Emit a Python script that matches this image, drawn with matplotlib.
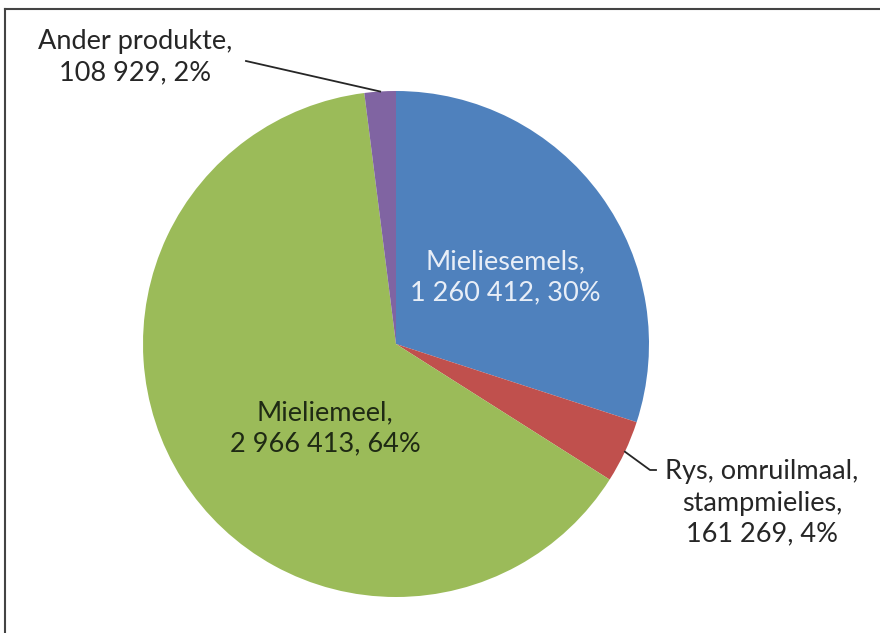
import matplotlib as mpl
mpl.use('Agg')
import matplotlib.pyplot as plt
import numpy as np

# data
names = ["Mieliesemels", "Rys, omruilmaal,\nstampmielies", "Mieliemeel", "Ander produkte"]
values = ["1 260 412", "161 269", "2 966 413", "108 929"]
percents = [30, 4, 64, 2]
colors = ["#4F81BD", "#C0504D", "#9BBB59", "#8064A2"]

plt.rcParams["font.family"] = ["Lato", "DejaVu Sans"]
W, H = 880, 633
fig = plt.figure(figsize=(W / 100, H / 100), dpi=100)
ax = fig.add_axes([0, 0, 1, 1])

cx, cy, R = 396, H - 344, 253
wedges, _ = ax.pie(percents, colors=colors, startangle=90, counterclock=False,
                   center=(cx, cy), radius=R, frame=True,
                   wedgeprops=dict(linewidth=0))
ax.set_xlim(0, W)
ax.set_ylim(0, H)
ax.set_aspect("equal")
ax.axis("off")

fs = 19.5
ls = 1.3
txt = ["{},\n{}, {}%".format(n, v, p) for n, v, p in zip(names, values, percents)]

# inside labels
ax.text(505, H - 277, txt[0], ha="center", va="center", fontsize=fs,
        color="#E8EEF7", linespacing=ls)
ax.text(325, H - 428, txt[2], ha="center", va="center", fontsize=fs,
        color="#1F2A14", linespacing=ls)

# outside labels with leader lines
def edge(theta):
    t = np.deg2rad(theta)
    return cx + R * np.cos(t), cy + R * np.sin(t)

ang = np.cumsum([0] + percents)
mid = [90 - (ang[i] + ang[i + 1]) / 2 * 3.6 for i in range(len(percents))]

ax.text(135, H - 57, txt[3], ha="center", va="center", fontsize=fs,
        color="#262626", linespacing=ls)
ex, ey = edge(mid[3])
ax.plot([246, ex], [H - 61, ey], color="#262626", lw=1.3)

ax.text(762, H - 503, txt[1], ha="center", va="center", fontsize=fs,
        color="#262626", linespacing=ls)
ex, ey = edge(mid[1])
ax.plot([ex, 650, 656], [ey, H - 470, H - 470], color="#262626", lw=1.3)

# frame lines (top and left)
ax.plot([5, W], [H - 9, H - 9], color="#444444", lw=1.5, clip_on=False)
ax.plot([5, 5], [H - 9, 0], color="#444444", lw=1.5, clip_on=False)

fig.savefig("out.png", dpi=100)
